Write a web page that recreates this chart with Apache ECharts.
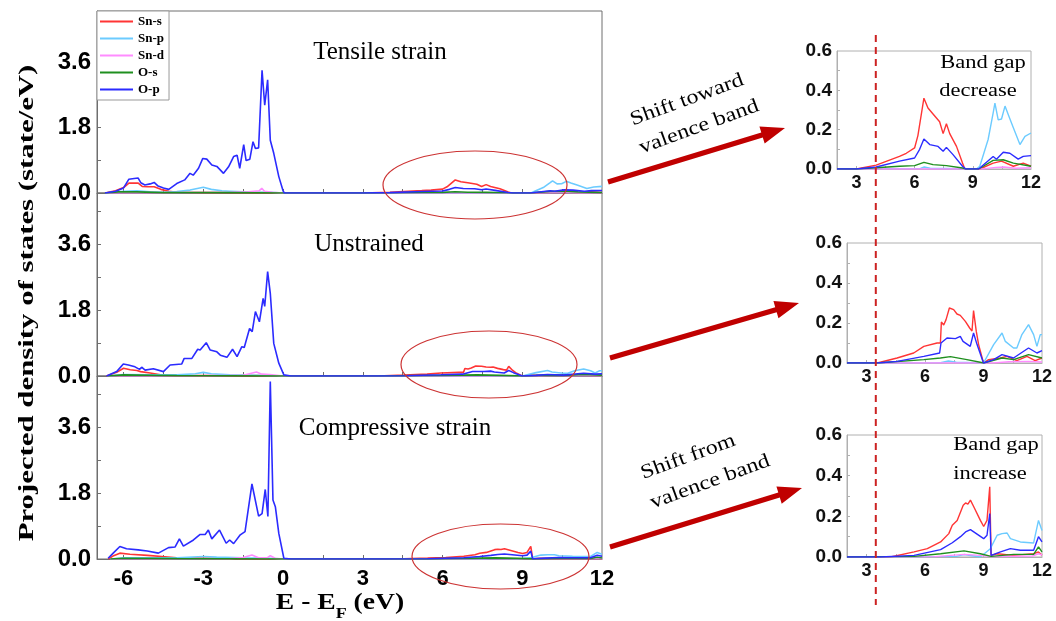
<!DOCTYPE html>
<html><head><meta charset="utf-8">
<script src="https://cdn.jsdelivr.net/npm/echarts@6/dist/echarts.min.js"></script>
<style>html,body{margin:0;padding:0;background:#fff}#c{width:1056px;height:621px}</style>
</head><body><div id="c"></div>
<script>
// ---------- labels ----------
const orbitals = ['Sn-s', 'Sn-p', 'Sn-d', 'O-s', 'O-p'];
const panelTitles = ['Tensile strain', 'Unstrained', 'Compressive strain'];
const mainXLabels = [-6, -3, 0, 3, 6, 9, 12];
const mainXTicks = [-6, -4.5, -3, -1.5, 0, 1.5, 3, 4.5, 6, 7.5, 9, 10.5];
const mainYLabels = [0, 1.8, 3.6];
const mainYTicks = [0.9, 1.8, 2.7, 3.6, 4.5];
const insetXLabels = [3, 6, 9, 12];
const insetXTicks = [3, 4.5, 6, 7.5, 9, 10.5];
const insetYTicks = [0.1, 0.2, 0.3, 0.4, 0.5];
const gapMarkE = 4.0;

// ---------- Tensile strain: valence band ----------
const tenSnS_v = [[-6.7,0],[-6.3,0.06],[-6.0,0.15],[-5.8,0.27],[-5.45,0.27],[-5.3,0.18],[-5.1,0.17],[-4.85,0.17],[-4.6,0.1],[-4.3,0.05],[-4.0,0.02],[-3,0.01],[-1,0.01],[0,0],[0.3,0]];
const tenSnP_v = [[-6.7,0],[-6,0.05],[-5.5,0.06],[-5,0.03],[-4.5,0.02],[-4,0.04],[-3.5,0.08],[-3.0,0.16],[-2.7,0.1],[-2.3,0.06],[-2,0.05],[-1.5,0.03],[-1,0.02],[-0.5,0.02],[0,0],[0.3,0]];
const tenSnD_v = [[-6.7,0],[-4,0.01],[-2,0.02],[-1.3,0.03],[-0.9,0.06],[-0.8,0.13],[-0.7,0.05],[-0.4,0.02],[0,0],[0.3,0]];
const tenOs_v = [[-6.7,0],[-6.2,0.03],[-5.5,0.03],[-4.5,0.01],[-2,0.01],[0,0],[0.3,0]];
const tenOp_v = [[-6.7,0],[-6.3,0.05],[-6.0,0.14],[-5.8,0.38],[-5.6,0.40],[-5.45,0.41],[-5.35,0.28],[-5.2,0.22],[-5.0,0.25],[-4.85,0.29],[-4.7,0.19],[-4.5,0.14],[-4.3,0.10],[-4.0,0.26],[-3.7,0.36],[-3.5,0.54],[-3.38,0.49],[-3.18,0.68],[-3.02,0.95],[-2.87,0.93],[-2.68,0.77],[-2.49,0.73],[-2.24,0.54],[-2.05,0.72],[-1.86,1.0],[-1.73,1.04],[-1.63,0.68],[-1.48,1.33],[-1.39,0.89],[-1.25,0.93],[-1.13,1.41],[-1.04,1.22],[-0.92,1.24],[-0.79,3.37],[-0.69,2.41],[-0.58,3.11],[-0.48,1.45],[-0.35,1.09],[-0.16,0.45],[0,0.06],[0.05,0],[0.3,0]];
// ---------- Tensile strain: conduction band ----------
const tenSnS_c = [[2,0],[3.0,0],[4.02,0.02],[5.22,0.064],[5.57,0.08],[6.0,0.107],[6.17,0.17],[6.48,0.36],[6.69,0.31],[6.95,0.28],[7.29,0.24],[7.47,0.18],[7.64,0.23],[7.81,0.18],[8.16,0.115],[8.47,0.03],[8.59,0],[9.36,0],[10.05,0.03],[10.48,0.04],[11.09,0.014],[11.6,0.03],[12,0.014]];
const tenSnP_c = [[2,0],[6.3,0.003],[6.5,0.01],[6.8,0.004],[9.19,0],[9.36,0.014],[9.79,0.15],[10.05,0.285],[10.14,0.335],[10.31,0.25],[10.48,0.254],[10.66,0.32],[10.83,0.276],[11.09,0.21],[11.43,0.124],[11.69,0.166],[12,0.183]];
const tenSnD_c = [[2,0],[9.5,0],[10.2,0.008],[10.6,0.01],[11.2,0.004],[12,0.006]];
const tenOs_c = [[2,0],[3,0],[4.2,0.008],[5.22,0.014],[6.0,0.017],[6.48,0.034],[6.95,0.022],[7.64,0.017],[8.47,0.005],[8.64,0],[9.3,0],[10.05,0.044],[10.57,0.047],[11.09,0.03],[12,0.014]];
const tenOp_c = [[2,0],[3,0],[4.02,0.01],[5.22,0.04],[6.0,0.056],[6.26,0.1],[6.48,0.153],[6.78,0.124],[7.21,0.115],[7.47,0.09],[7.64,0.11],[7.98,0.073],[8.47,0.014],[8.64,0],[9.3,0],[10.05,0.064],[10.22,0.05],[10.57,0.085],[10.91,0.08],[11.34,0.05],[11.6,0.064],[12,0.068]];

// ---------- Unstrained: valence band ----------
const uneSnS_v = [[-6.64,0],[-6.26,0.1],[-6.0,0.21],[-5.75,0.17],[-5.5,0.15],[-5.36,0.12],[-5.0,0.08],[-4.5,0.02],[-4,0.01],[-1,0.01],[0,0],[0.3,0]];
const uneSnP_v = [[-6.6,0],[-6,0.04],[-5,0.03],[-4,0.03],[-3.3,0.06],[-3.0,0.1],[-2.7,0.06],[-2,0.03],[-1,0.02],[0,0],[0.3,0]];
const uneSnD_v = [[-6.6,0],[-3,0.01],[-1.5,0.02],[-1.0,0.11],[-0.8,0.05],[-0.5,0.04],[0,0],[0.3,0]];
const uneOs_v = [[-6.6,0],[-6,0.03],[-5,0.02],[-4,0.01],[0,0],[0.3,0]];
const uneOp_v = [[-6.64,0],[-6.26,0.12],[-6.01,0.33],[-5.82,0.30],[-5.57,0.25],[-5.5,0.27],[-5.4,0.18],[-5.32,0.24],[-5.19,0.16],[-4.88,0.2],[-4.5,0.12],[-4.25,0.3],[-3.81,0.33],[-3.72,0.48],[-3.43,0.48],[-3.21,0.73],[-3.12,0.71],[-2.89,0.91],[-2.74,0.71],[-2.49,0.66],[-2.36,0.57],[-2.11,0.51],[-1.9,0.73],[-1.73,0.53],[-1.55,0.8],[-1.46,0.78],[-1.26,1.30],[-1.16,1.21],[-1.04,1.76],[-0.89,1.48],[-0.75,2.12],[-0.69,1.9],[-0.58,2.85],[-0.48,2.26],[-0.35,0.89],[-0.16,0.35],[0.03,0.03],[0.1,0],[0.3,0]];
// ---------- Unstrained: conduction band ----------
const uneSnS_c = [[2,0],[3.55,0],[4.57,0.025],[5.42,0.05],[5.94,0.083],[6.62,0.1],[6.79,0.1],[6.84,0.205],[6.96,0.19],[7.08,0.217],[7.25,0.275],[7.47,0.267],[7.64,0.245],[7.81,0.238],[7.9,0.247],[8.07,0.208],[8.29,0.175],[8.41,0.16],[8.49,0.262],[8.63,0.158],[8.75,0.092],[9.0,0],[9.26,0.017],[9.86,0.025],[10.2,0.033],[10.71,0.012],[11.23,0.033],[11.65,0.012],[12,0.025]];
const uneSnP_c = [[2,0],[6.8,0.002],[7.2,0.01],[7.6,0.004],[9.0,0],[9.52,0.092],[9.95,0.15],[10.12,0.108],[10.54,0.075],[10.71,0.075],[10.97,0.142],[11.31,0.192],[11.57,0.142],[11.74,0.083],[11.91,0.142],[12,0.142]];
const uneSnD_c = [[2,0],[9.5,0],[10.3,0.006],[11.3,0.008],[12,0.005]];
const uneOs_c = [[2,0],[3.55,0],[5.94,0.017],[6.79,0.025],[7.3,0.032],[8.15,0.017],[8.83,0.004],[9.0,0],[9.95,0.025],[10.54,0.017],[11.31,0.042],[12,0.025]];
const uneOp_c = [[2,0],[3.55,0],[4.57,0.008],[5.94,0.033],[6.75,0.05],[6.82,0.1],[7.13,0.125],[7.56,0.122],[7.81,0.133],[7.95,0.108],[8.32,0.083],[8.49,0.15],[8.67,0.092],[9.0,0],[9.52,0.017],[9.95,0.042],[10.54,0.025],[11.31,0.075],[11.74,0.05],[12,0.062]];

// ---------- Compressive strain: valence band ----------
const comSnS_v = [[-6.58,0],[-6.4,0.08],[-6.14,0.16],[-5.76,0.13],[-5.1,0.1],[-4.45,0.06],[-4,0.03],[-2,0.01],[0,0],[0.3,0]];
const comSnP_v = [[-6.5,0],[-6,0.03],[-4,0.03],[-3,0.07],[-2.5,0.05],[-1.5,0.03],[-0.5,0.02],[0,0],[0.3,0]];
const comSnD_v = [[-6.5,0],[-2,0.01],[-1.5,0.04],[-1.17,0.11],[-0.9,0.03],[-0.6,0.03],[-0.48,0.09],[-0.3,0.02],[0,0],[0.3,0]];
const comOs_v = [[-6.5,0],[-6,0.02],[-4,0.01],[0,0],[0.3,0]];
const comOp_v = [[-6.58,0.02],[-6.39,0.16],[-6.14,0.34],[-5.89,0.28],[-5.45,0.25],[-5.11,0.22],[-4.69,0.16],[-4.31,0.31],[-4.06,0.33],[-3.9,0.55],[-3.75,0.35],[-3.37,0.52],[-3.12,0.67],[-2.93,0.67],[-2.81,0.79],[-2.68,0.55],[-2.39,0.79],[-2.14,0.43],[-2.01,0.52],[-1.86,0.42],[-1.61,0.66],[-1.43,0.75],[-1.17,2.05],[-0.92,1.17],[-0.79,1.24],[-0.67,1.90],[-0.57,1.16],[-0.48,4.85],[-0.38,1.61],[-0.29,1.43],[-0.16,0.70],[0.03,0.02],[0.1,0],[0.3,0]];
// ---------- Compressive strain: conduction band ----------
const comSnS_c = [[2,0],[4.24,0],[5.44,0.025],[6.12,0.041],[6.8,0.074],[7.22,0.115],[7.4,0.156],[7.65,0.18],[7.96,0.255],[8.08,0.266],[8.2,0.26],[8.33,0.28],[8.5,0.247],[8.84,0.18],[9.01,0.15],[9.18,0.18],[9.32,0.345],[9.39,0.008],[9.7,0.016],[10.55,0.008],[11.57,0.016],[11.82,0.025],[12,0.008]];
const comSnP_c = [[2,0],[7.6,0.003],[8.0,0.012],[8.5,0.005],[8.84,0],[9.35,0.041],[9.7,0.107],[9.95,0.115],[10.21,0.118],[10.38,0.09],[10.89,0.074],[11.57,0.069],[11.82,0.18],[12,0.13]];
const comSnD_c = [[2,0],[6.5,0.002],[8.0,0.013],[8.84,0.008],[9.4,0.002],[11.5,0.005],[11.82,0.016],[12,0.01]];
const comOs_c = [[2,0],[5.44,0.003],[6.8,0.016],[8.0,0.03],[8.84,0.016],[9.39,0.003],[10.55,0.013],[11.57,0.013],[11.82,0.05],[12,0.025]];
const comOp_c = [[2,0],[3.73,0],[5.44,0.008],[6.8,0.036],[7.4,0.07],[7.82,0.1],[8.08,0.123],[8.33,0.135],[9.01,0.09],[9.18,0.107],[9.32,0.214],[9.39,0.008],[9.87,0.025],[10.38,0.041],[10.89,0.033],[11.57,0.033],[11.82,0.1],[12,0.074]];

// ---------- assemble ----------
const colors = ['#ff3535', '#6ccbff', '#ff8cff', '#1f8f1f', '#2b2bff'];
const valence = [
  [tenSnS_v, tenSnP_v, tenSnD_v, tenOs_v, tenOp_v],
  [uneSnS_v, uneSnP_v, uneSnD_v, uneOs_v, uneOp_v],
  [comSnS_v, comSnP_v, comSnD_v, comOs_v, comOp_v]
];
const conduction = [
  [tenSnS_c, tenSnP_c, tenSnD_c, tenOs_c, tenOp_c],
  [uneSnS_c, uneSnP_c, uneSnD_c, uneOs_c, uneOp_c],
  [comSnS_c, comSnP_c, comSnD_c, comOs_c, comOp_c]
];

const SANS = '"Liberation Sans", Arial, sans-serif';
const SERIF = '"Liberation Serif", "Times New Roman", serif';
const mainColor = '#6e6e6e';
const insetColor = '#b0b0b0';

const grids = [
  {left: 97, top: 11, width: 505, height: 182},
  {left: 97, top: 193, width: 505, height: 183},
  {left: 97, top: 376, width: 505, height: 183},
  {left: 837, top: 51, width: 194, height: 118},
  {left: 847, top: 243, width: 195, height: 120},
  {left: 847, top: 435, width: 195, height: 122}
].map(g => Object.assign({show: true, borderColor: g.left < 800 ? mainColor : insetColor, borderWidth: 1, backgroundColor: 'transparent'}, g));

const xAxes = [], yAxes = [], series = [];
for (let p = 0; p < 3; p++) {
  xAxes.push({
    type: 'value', gridIndex: p, min: -7, max: 12,
    axisLine: {show: true, onZero: false, lineStyle: {color: mainColor, width: 1}},
    axisTick: {show: true, inside: true, length: 4, customValues: mainXTicks, lineStyle: {color: mainColor}},
    axisLabel: {show: p === 2, customValues: mainXLabels, margin: 9, color: '#000',
      fontFamily: SANS, fontWeight: 'bold', fontSize: 22},
    splitLine: {show: false}
  });
  yAxes.push({
    type: 'value', gridIndex: p, min: 0, max: 5,
    axisLine: {show: true, onZero: false, lineStyle: {color: mainColor}},
    axisTick: {show: true, inside: true, length: 4, customValues: mainYTicks, lineStyle: {color: mainColor}},
    axisLabel: {customValues: mainYLabels, margin: 6, color: '#000', fontFamily: SANS, fontWeight: 'bold', fontSize: 24,
      formatter: v => v.toFixed(1)},
    splitLine: {show: false}
  });
}
for (let p = 0; p < 3; p++) {
  xAxes.push({
    type: 'value', gridIndex: 3 + p, min: 2, max: 12,
    axisLine: {show: true, onZero: false, lineStyle: {color: insetColor}},
    axisTick: {show: true, inside: true, length: 3, customValues: insetXTicks, lineStyle: {color: insetColor}},
    axisLabel: {customValues: insetXLabels, margin: 5, color: '#111', fontFamily: SANS, fontWeight: 'bold', fontSize: 18},
    splitLine: {show: false}
  });
  yAxes.push({
    type: 'value', gridIndex: 3 + p, min: 0, max: 0.6, interval: 0.2,
    axisLine: {show: true, onZero: false, lineStyle: {color: insetColor}},
    axisTick: {show: true, inside: true, length: 3, customValues: insetYTicks, lineStyle: {color: insetColor}},
    axisLabel: {margin: 5, color: '#111', fontFamily: SANS, fontWeight: 'bold', fontSize: 19, formatter: v => v.toFixed(1)},
    splitLine: {show: false}
  });
}
for (let p = 0; p < 3; p++) {
  for (let k = 0; k < 5; k++) {
    series.push({
      name: orbitals[k], type: 'line', xAxisIndex: p, yAxisIndex: p,
      data: valence[p][k].concat(conduction[p][k]),
      showSymbol: false, symbol: 'none', lineStyle: {width: 1.6, color: colors[k]}, itemStyle: {color: colors[k]},
      animation: false, z: 2 + k
    });
  }
}
for (let p = 0; p < 3; p++) {
  for (let k = 0; k < 5; k++) {
    series.push({
      name: orbitals[k], type: 'line', xAxisIndex: 3 + p, yAxisIndex: 3 + p,
      data: conduction[p][k],
      showSymbol: false, symbol: 'none', lineStyle: {width: 1.4, color: colors[k]}, itemStyle: {color: colors[k]},
      animation: false, z: 2 + k
    });
  }
}

function arrowPoints(x1, y1, x2, y2, w, hl, hw) {
  const dx = x2 - x1, dy = y2 - y1, L = Math.hypot(dx, dy);
  const ux = dx / L, uy = dy / L, nx = -uy, ny = ux;
  const bx = x2 - ux * hl, by = y2 - uy * hl;
  return [[x1 + nx * w, y1 + ny * w], [bx + nx * w, by + ny * w], [bx + nx * hw, by + ny * hw], [x2, y2],
          [bx - nx * hw, by - ny * hw], [bx - nx * w, by - ny * w], [x1 - nx * w, y1 - ny * w]];
}
function txt(text, x, y, font, opts) {
  return Object.assign({type: 'text', x: x, y: y, z: 20,
    style: {text: text, font: font, fill: '#000', align: 'center', verticalAlign: 'middle'}}, opts || {});
}

const chart = echarts.init(document.getElementById('c'), null, {renderer: 'canvas'});
chart.setOption({
  animation: false,
  backgroundColor: '#fff',
  grid: grids, xAxis: xAxes, yAxis: yAxes, series: series,
  legend: {
    data: orbitals, orient: 'vertical', left: 97, top: 11, icon: 'rect', itemWidth: 33, itemHeight: 2, itemGap: 0,
    padding: [2, 5, 2, 3], borderColor: '#999', borderWidth: 1, backgroundColor: '#fff',
    textStyle: {fontFamily: SERIF, fontWeight: 'bold', fontSize: 13, lineHeight: 17, color: '#000'}
  }
});

const gx = chart.convertToPixel({xAxisIndex: 3}, gapMarkE);
const redDark = '#c00000';
chart.setOption({
  graphic: [
    txt(panelTitles[0], 380, 52, '25px ' + SERIF),
    txt(panelTitles[1], 369, 244, '25px ' + SERIF),
    txt(panelTitles[2], 395, 428, '25px ' + SERIF),
    txt('Projected density of states (state/eV)', 27, 303, 'bold 22px ' + SERIF, {rotation: Math.PI / 2, scaleX: 1.4}),
    {type: 'text', x: 340, y: 607, z: 20, scaleX: 1.2, style: {
      text: '{m|E - E}{s|F}{m| (eV)}', align: 'center', verticalAlign: 'middle', fill: '#000',
      rich: {m: {fontFamily: SERIF, fontWeight: 'bold', fontSize: 23, lineHeight: 30, verticalAlign: 'top'},
             s: {fontFamily: SERIF, fontWeight: 'bold', fontSize: 15, lineHeight: 15, verticalAlign: 'bottom'}}}},
    {type: 'ellipse', z: 15, shape: {cx: 475, cy: 185, rx: 92, ry: 34}, style: {fill: null, stroke: '#cc3333', lineWidth: 1.2}},
    {type: 'ellipse', z: 15, shape: {cx: 489, cy: 364.5, rx: 88, ry: 33.5}, style: {fill: null, stroke: '#cc3333', lineWidth: 1.2}},
    {type: 'ellipse', z: 15, shape: {cx: 500.5, cy: 556.5, rx: 88.5, ry: 32.5}, style: {fill: null, stroke: '#cc3333', lineWidth: 1.2}},
    {type: 'polygon', z: 15, shape: {points: arrowPoints(608, 182, 785, 128, 2.6, 24, 9)}, style: {fill: redDark}},
    {type: 'polygon', z: 15, shape: {points: arrowPoints(610, 358, 799, 303, 2.6, 24, 9)}, style: {fill: redDark}},
    {type: 'polygon', z: 15, shape: {points: arrowPoints(610, 547, 802, 488, 2.6, 24, 9)}, style: {fill: redDark}},
    txt('Shift toward', 687, 100, '20px ' + SERIF, {rotation: 0.35, scaleX: 1.2}),
    txt('valence band', 699, 127, '20px ' + SERIF, {rotation: 0.35, scaleX: 1.2}),
    txt('Shift from', 688, 457, '20px ' + SERIF, {rotation: 0.35, scaleX: 1.2}),
    txt('valence band', 710, 482, '20px ' + SERIF, {rotation: 0.35, scaleX: 1.2}),
    txt('Band gap', 983, 63, '18px ' + SERIF, {scaleX: 1.25}),
    txt('decrease', 978, 91, '18px ' + SERIF, {scaleX: 1.25}),
    txt('Band gap', 996, 445, '18px ' + SERIF, {scaleX: 1.25}),
    txt('increase', 990, 474, '18px ' + SERIF, {scaleX: 1.25}),
    {type: 'line', z: 16, shape: {x1: gx, y1: 35, x2: gx, y2: 605},
      style: {stroke: '#cc2222', lineWidth: 2, lineDash: [7, 5]}}
  ]
});
</script></body></html>
